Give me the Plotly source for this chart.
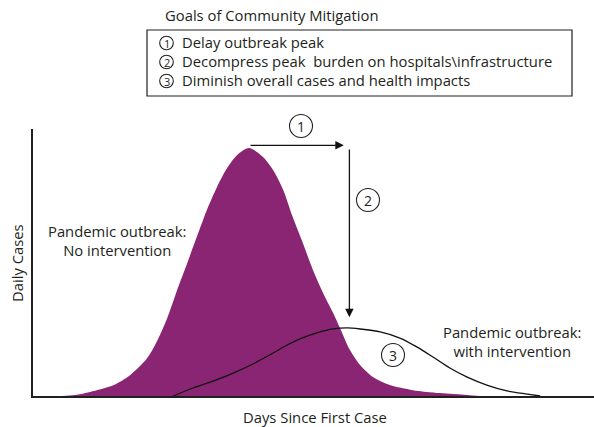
import plotly.graph_objects as go

# ---- data (days since first case, daily cases in relative units) ----
no_int_days = [5.2, 7.5, 10.2, 14.3, 17.3, 20.3, 22.1, 23.9, 25.7, 27.5, 29.2, 31.0,
               32.8, 34.6, 36.4, 38.5, 41.0, 42.8, 44.6, 46.3, 48.1, 49.9, 51.7,
               53.5, 54.7, 56.5, 58.3, 60.6, 63.6, 67.7, 72.5, 77.4, 79.7]
no_int_cases = [0.0, 0.4, 1.5, 4.0, 7.8, 14.0, 20.5, 29.0, 39.7, 49.8, 59.6, 69.7,
                78.3, 85.4, 90.3, 92.9, 89.5, 84.6, 77.2, 67.0, 57.3, 47.2, 38.6,
                31.1, 25.6, 17.2, 11.6, 7.1, 4.1, 2.2, 1.1, 0.4, 0.0]

with_int_days = [25.0, 28.5, 32.1, 35.7, 39.2, 42.8, 45.3, 47.6, 50.6, 53.5, 56.0,
                 58.3, 61.9, 65.4, 68.4, 71.3, 74.3, 77.4, 80.9, 84.5, 88.1, 90.4]
with_int_cases = [0.0, 3.0, 5.6, 8.6, 12.0, 16.1, 19.1, 21.4, 23.6, 25.1, 25.5,
                  25.1, 24.0, 21.7, 18.4, 14.6, 10.5, 7.1, 4.1, 1.9, 0.7, 0.0]

box_marks = ["1", "2", "3"]
box_lines = ["Delay outbreak peak",
             "Decompress peak  burden on hospitals\\infrastructure",
             "Diminish overall cases and health impacts"]

PURPLE = "#8A2574"
INK = "#231f20"
FONT = "Open Sans"
FS = 14.8
W, H = 594, 427
L, R, T, B = 33, 0, 129, 31
PW, PH = W - L - R, H - T - B


def px(x, y):
    """pixel position -> paper coordinates (layout placement helper)"""
    return (x - L) / PW, (H - B - y) / PH


fig = go.Figure()
fig.add_trace(go.Scatter(x=no_int_days, y=no_int_cases, mode="lines",
                         line=dict(color=PURPLE, width=0, shape="spline", smoothing=0.8),
                         fill="tozeroy", fillcolor=PURPLE, hoverinfo="skip"))
fig.add_trace(go.Scatter(x=with_int_days, y=with_int_cases, mode="lines",
                         line=dict(color="#111111", width=1.3, shape="spline", smoothing=0.8),
                         hoverinfo="skip"))

# peaks derived from data
i1 = no_int_cases.index(max(no_int_cases))
i2 = with_int_cases.index(max(with_int_cases))
p1x, p1y = no_int_days[i1], no_int_cases[i1]
p2x, p2y = with_int_days[i2], with_int_cases[i2]

annotations = []
# arrow 1: delay peak
annotations.append(dict(x=p2x - 0.6, y=p1y + 1.0, ax=p1x, ay=p1y + 1.0,
                        xref="x", yref="y", axref="x", ayref="y", text="",
                        showarrow=True, arrowhead=2, arrowsize=1.3, arrowwidth=1.3,
                        arrowcolor="#111111"))
# arrow 2: decompress peak
annotations.append(dict(x=p2x + 0.4, y=p2y + 4.0, ax=p2x + 0.4, ay=p1y, xref="x", yref="y",
                        axref="x", ayref="y", text="", showarrow=True, arrowhead=2,
                        arrowsize=1.3, arrowwidth=1.3, arrowcolor="#111111"))

tf = dict(family=FONT, size=FS, color=INK)
shapes = []


def txt(text, x, y, xanchor="center", font=None, **kw):
    xp, yp = px(x, y)
    annotations.append(dict(x=xp, y=yp, xref="paper", yref="paper", text=text,
                            showarrow=False, xanchor=xanchor, yanchor="middle",
                            font=font or tf, **kw))


def circled(n, cx, cy, r, fsize):
    x, y = px(cx, cy)
    shapes.append(dict(type="circle", xref="paper", yref="paper", xsizemode="pixel",
                       ysizemode="pixel", xanchor=x, yanchor=y, x0=-r, x1=r,
                       y0=-r, y1=r, line=dict(color=INK, width=1.1)))
    txt(n, cx, cy, font=dict(family=FONT, size=fsize, color=INK))


txt("Goals of Community Mitigation", 163, 15, xanchor="left")
for mk, ln, yy in zip(box_marks, box_lines, [42, 61, 80]):
    circled(mk, 166.5, yy + 1, 6.8, 11)
    txt(ln, 180, yy, xanchor="left")
txt("Pandemic outbreak:<br>No intervention", 117, 240)
txt("Pandemic outbreak:<br>with intervention", 512, 341)
txt("Daily Cases", 17, 263, textangle=-90)
txt("Days Since First Case", 315, 417)

bx0, by0 = px(147, 96)
bx1, by1 = px(572, 30)
shapes.append(dict(type="rect", xref="paper", yref="paper", x0=bx0, x1=bx1, y0=by0, y1=by1,
                   line=dict(color=INK, width=1.2)))
for n, (cx, cy) in zip(["1", "2", "3"], [(301, 126), (368, 200), (393, 355)]):
    circled(n, cx, cy, 11.5, 14)

fig.update_layout(
    width=W, height=H, margin=dict(l=L, r=R, t=T, b=B),
    paper_bgcolor="white", plot_bgcolor="white", showlegend=False,
    xaxis=dict(range=[0, 100], showgrid=False, zeroline=False, showticklabels=False,
               ticks="", showline=True, linecolor=INK, linewidth=1.5, fixedrange=True),
    yaxis=dict(range=[0, 100], showgrid=False, zeroline=False, showticklabels=False,
               ticks="", showline=True, linecolor=INK, linewidth=1.5, fixedrange=True),
    annotations=annotations, shapes=shapes,
)
fig.write_html("out.html", config={"displayModeBar": False},
               post_script="document.body.style.margin='0';")
